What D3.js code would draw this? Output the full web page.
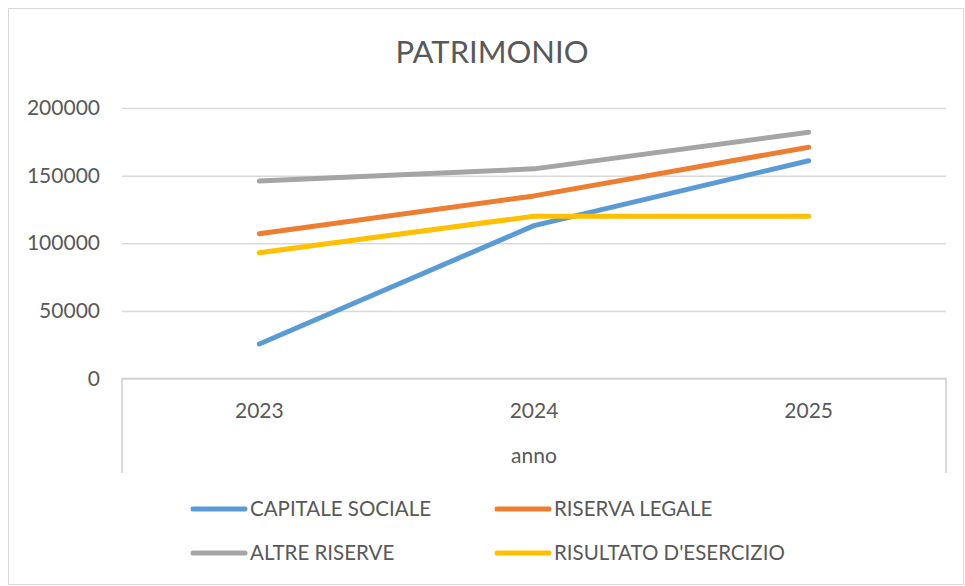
<!DOCTYPE html>
<html>
<head>
<meta charset="utf-8">
<script src="https://cdn.jsdelivr.net/npm/d3@7"></script>
<style>
  body { margin: 0; background: #fff; }
  svg text { font-family: Lato, "Open Sans", sans-serif; fill: #595959; }
</style>
</head>
<body>
<div id="vis"></div>
<script>
const years = ["2023", "2024", "2025"];
const seriesNames = ["CAPITALE SOCIALE", "RISERVA LEGALE", "ALTRE RISERVE", "RISULTATO D'ESERCIZIO"];
const capitaleSociale = [25500, 113000, 161000];
const riservaLegale = [107000, 135000, 171000];
const altreRiserve = [146000, 155000, 182000];
const risultatoEsercizio = [93000, 120000, 120000];
const yTicks = [0, 50000, 100000, 150000, 200000];
const colors = ["#5b9bd5", "#ed7d31", "#a5a5a5", "#ffc000"];

const series = [capitaleSociale, riservaLegale, altreRiserve, risultatoEsercizio]
  .map((values, i) => ({ name: seriesNames[i], values, color: colors[i] }));

const W = 965, H = 586;
const plot = { left: 122, right: 946, top: 108, bottom: 378.5 };

const svg = d3.select("#vis")
  .append("svg")
  .attr("width", W)
  .attr("height", H);

// chart border
svg.append("rect")
  .attr("x", 8.5).attr("y", 8.5)
  .attr("width", W - 10).attr("height", H - 10)
  .attr("fill", "#fff")
  .attr("stroke", "#d9d9d9");

const x = d3.scaleBand()
  .domain(years)
  .range([plot.left, plot.right]);

const y = d3.scaleLinear()
  .domain([0, 200000])
  .range([plot.bottom, plot.top]);

// title
svg.append("text")
  .attr("x", 492)
  .attr("y", 63)
  .attr("text-anchor", "middle")
  .attr("font-size", 31)
  .text("PATRIMONIO");

// gridlines
svg.append("g")
  .attr("transform", `translate(${plot.left},0)`)
  .call(d3.axisLeft(y).tickValues(yTicks).tickSize(-(plot.right - plot.left)).tickFormat(""))
  .call(g => g.select(".domain").remove())
  .selectAll("line")
  .attr("stroke", "#d9d9d9")
  .attr("stroke-width", 1.5);

// y tick labels
svg.append("g")
  .attr("transform", `translate(100,0)`)
  .call(d3.axisLeft(y).tickValues(yTicks).tickSize(0).tickPadding(0).tickFormat(d3.format("d")))
  .call(g => g.select(".domain").remove())
  .selectAll("text")
  .attr("font-size", 21)
  .attr("font-family", "Lato, sans-serif")
  .attr("fill", "#595959");

// category axis frame
const frameBottom = 473;
svg.append("path")
  .attr("d", `M${plot.left},${frameBottom}V${plot.bottom}H${plot.right}V${frameBottom}`)
  .attr("fill", "none")
  .attr("stroke", "#d0d0d0")
  .attr("stroke-width", 1.5);

svg.append("g")
  .attr("transform", `translate(0,${plot.bottom})`)
  .call(d3.axisBottom(x).tickSize(0).tickPadding(0))
  .call(g => g.select(".domain").remove())
  .selectAll("text")
  .attr("dy", null)
  .attr("y", 39)
  .attr("font-size", 21)
  .attr("font-family", "Lato, sans-serif")
  .attr("fill", "#595959");

svg.append("text")
  .attr("x", (plot.left + plot.right) / 2)
  .attr("y", 463)
  .attr("text-anchor", "middle")
  .attr("font-size", 21)
  .text("anno");

// lines
const line = d3.line()
  .x((d, i) => x(years[i]) + x.bandwidth() / 2)
  .y(d => y(d));

svg.selectAll(".series")
  .data(series)
  .enter()
  .append("path")
  .attr("class", "series")
  .attr("d", d => line(d.values))
  .attr("fill", "none")
  .attr("stroke", d => d.color)
  .attr("stroke-width", 5)
  .attr("stroke-linecap", "round")
  .attr("stroke-linejoin", "round");

// legend
const legendCols = [193, 497];
const legendRows = [509, 553];
const legend = svg.selectAll(".legend")
  .data(series)
  .enter()
  .append("g")
  .attr("class", "legend")
  .attr("transform", (d, i) => `translate(${legendCols[i % 2]},${legendRows[Math.floor(i / 2)]})`);

legend.append("line")
  .attr("x1", 0).attr("x2", 52)
  .attr("stroke", d => d.color)
  .attr("stroke-width", 5)
  .attr("stroke-linecap", "round");

legend.append("text")
  .attr("x", 57)
  .attr("dy", "0.35em")
  .attr("font-size", 20.5)
  .text(d => d.name);
</script>
</body>
</html>
